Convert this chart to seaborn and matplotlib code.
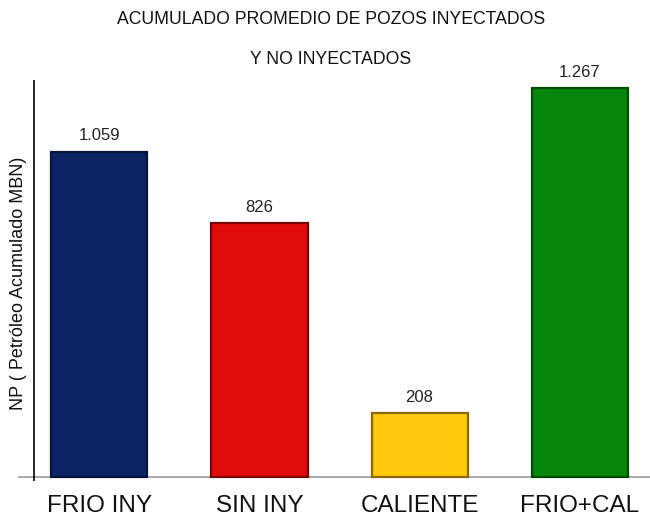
import matplotlib
matplotlib.use("Agg")
import matplotlib.pyplot as plt
import seaborn as sns
import pandas as pd

# chart data
categories = ["FRIO INY", "SIN INY", "CALIENTE", "FRIO+CAL"]
values = [1059, 826, 208, 1267]
bar_colors = ["#0c2466", "#e00b0b", "#ffc80a", "#06860a"]
edge_colors = ["#061538", "#7a0505", "#8a6a00", "#034a05"]

sns.set_style("white")
plt.rcParams["font.family"] = ["Liberation Sans", "DejaVu Sans"]

df = pd.DataFrame({"cat": categories, "val": values})

fig = plt.figure(figsize=(6.5, 5.17), dpi=100)
# axes spans px x 18..650, y 80..481
ax = fig.add_axes([18 / 650, 1 - 481 / 517, 632 / 650, 401 / 517])

sns.barplot(data=df, x="cat", y="val", hue="cat", palette=bar_colors,
            width=0.6, legend=False, ax=ax, saturation=1)

for patch, ec in zip(ax.patches, edge_colors):
    patch.set_edgecolor(ec)
    patch.set_linewidth(1.6)

ax.set_xlim(-0.509, 3.44)
ax.set_ylim(-13, 1293)

for spine in ax.spines.values():
    spine.set_visible(False)
ax.axhline(0, color="#999999", lw=1.2, zorder=0)
ax.axvline(-0.409, color="black", lw=1.2)

for i, v in enumerate(values):
    label = f"{v:,}".replace(",", ".")
    ax.text(i, v + 52, label, ha="center", va="center", fontsize=12, color="#222222")

ax.set_yticks([])
ax.set_xlabel("")
ax.set_ylabel("")
ax.tick_params(axis="x", length=0, labelsize=17.5, pad=10, labelcolor="#111111")

fig.text(19 / 650, 1 - 283 / 517, "NP ( Petróleo Acumulado MBN)", rotation=90,
         ha="center", va="center", fontsize=13, color="#111111")
fig.text(331 / 650, 1 - 20 / 517, "ACUMULADO PROMEDIO DE POZOS INYECTADOS",
         ha="center", va="center", fontsize=12.7, color="#111111")
fig.text(331 / 650, 1 - 60 / 517, "Y NO INYECTADOS",
         ha="center", va="center", fontsize=12.7, color="#111111")

fig.savefig("out.png", dpi=100)
